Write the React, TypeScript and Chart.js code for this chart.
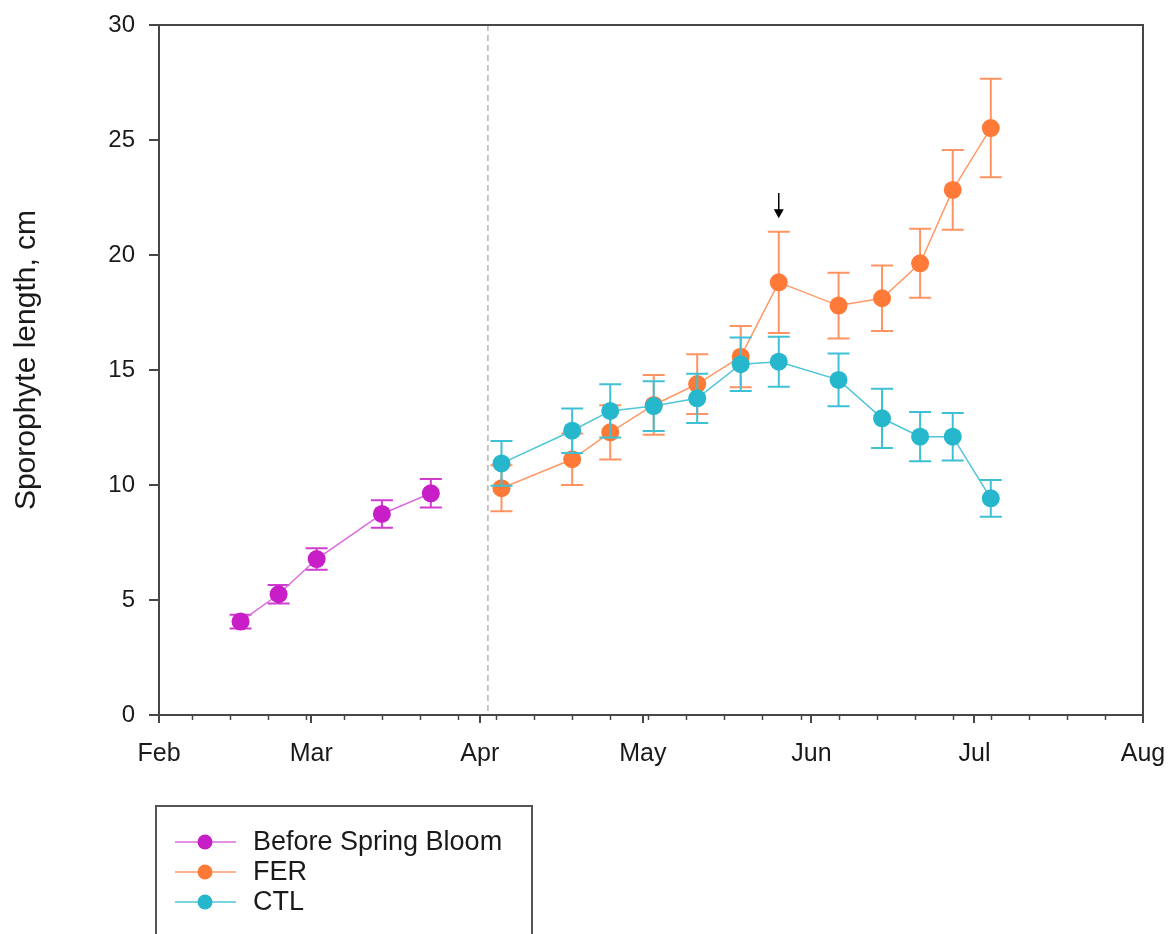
import React, { useEffect, useRef } from "react";
import { Chart, registerables } from "chart.js";

Chart.register(...registerables);

// ---------- data ----------
const axisStart = "2021-02-01";
const axisEnd = "2021-08-01";
const monthTickDates = ["2021-02-01", "2021-03-01", "2021-04-01", "2021-05-01", "2021-06-01", "2021-07-01", "2021-08-01"];
const monthTickLabels = ["Feb", "Mar", "Apr", "May", "Jun", "Jul", "Aug"];
const firstWeeklyTick = "2021-02-07";
const yMin = 0;
const yMax = 30;
const yStep = 5;

const bloomDates = ["2021-02-16", "2021-02-23", "2021-03-02", "2021-03-14", "2021-03-23"];
const bloomMean = [4.06, 5.25, 6.78, 8.74, 9.64];
const bloomErr = [0.3, 0.4, 0.47, 0.6, 0.62];

const treatDates = [
  "2021-04-05", "2021-04-18", "2021-04-25", "2021-05-03", "2021-05-11", "2021-05-19",
  "2021-05-26", "2021-06-06", "2021-06-14", "2021-06-21", "2021-06-27", "2021-07-04",
];
const ferMean = [9.86, 11.12, 12.29, 13.48, 14.39, 15.58, 18.81, 17.8, 18.12, 19.64, 22.83, 25.52];
const ferErr = [1.0, 1.12, 1.18, 1.3, 1.3, 1.33, 2.2, 1.43, 1.42, 1.5, 1.73, 2.14];
const ctlMean = [10.94, 12.36, 13.22, 13.43, 13.77, 15.25, 15.36, 14.57, 12.9, 12.1, 12.1, 9.42];
const ctlErr = [0.97, 0.97, 1.16, 1.08, 1.07, 1.16, 1.09, 1.15, 1.29, 1.07, 1.03, 0.8];

const seriesLabels = ["Before Spring Bloom", "FER", "CTL"];
const bloomEndDate = "2021-04-02T12:00:00Z";
const arrowDate = "2021-05-26";
const arrowTopValue = 22.7;
const arrowTipValue = 21.6;
const yAxisTitle = "Sporophyte length, cm";

// ---------- helpers ----------
const DAY = 86400000;
const dayOf = (d: string) => (Date.parse(d) - Date.parse(axisStart)) / DAY;
const toPoints = (dates: string[], vals: number[]) => dates.map((d, i) => ({ x: dayOf(d), y: vals[i] }));

const FONT = "'Liberation Sans', Arial, sans-serif";
const AXIS_COLOR = "#474747";
const TEXT_COLOR = "#1a1a1a";

const COLORS = {
  bloom: { point: "#C81EC8", line: "#DC6ADC", err: "#D03CD0" },
  fer: { point: "#FF7A38", line: "#FF9A66", err: "#FF9462" },
  ctl: { point: "#27B7CC", line: "#4EC6D8", err: "#3FC0D4" },
};

const errorBarPlugin = {
  id: "errorBars",
  beforeDatasetDraw(chart: any, args: any) {
    const ds = chart.data.datasets[args.index];
    if (!ds.errors) return;
    const { ctx } = chart;
    const yScale = chart.scales.y;
    const cap = 11;
    ctx.save();
    ctx.strokeStyle = ds.errColor;
    ctx.lineWidth = 2;
    args.meta.data.forEach((el: any, i: number) => {
      const v = ds.data[i].y;
      const e = ds.errors[i];
      const x = el.x;
      const yt = yScale.getPixelForValue(v + e);
      const yb = yScale.getPixelForValue(v - e);
      ctx.beginPath();
      ctx.moveTo(x, yt);
      ctx.lineTo(x, yb);
      ctx.moveTo(x - cap, yt);
      ctx.lineTo(x + cap, yt);
      ctx.moveTo(x - cap, yb);
      ctx.lineTo(x + cap, yb);
      ctx.stroke();
    });
    ctx.restore();
  },
};

const decorPlugin = {
  id: "decor",
  beforeDatasetsDraw(chart: any) {
    const { ctx, chartArea } = chart;
    const xs = chart.scales.x;
    const xd = xs.getPixelForValue(dayOf(bloomEndDate));
    ctx.save();
    ctx.strokeStyle = "#b5b5b5";
    ctx.lineWidth = 1.5;
    ctx.setLineDash([6, 4]);
    ctx.beginPath();
    ctx.moveTo(xd, chartArea.top);
    ctx.lineTo(xd, chartArea.bottom);
    ctx.stroke();
    ctx.restore();
  },
  afterDraw(chart: any) {
    const { ctx, chartArea } = chart;
    const xs = chart.scales.x;
    const ys = chart.scales.y;
    ctx.save();
    ctx.strokeStyle = AXIS_COLOR;
    ctx.lineWidth = 2;
    ctx.beginPath();
    ctx.moveTo(chartArea.left - 10, chartArea.top);
    ctx.lineTo(chartArea.right, chartArea.top);
    ctx.lineTo(chartArea.right, chartArea.bottom);
    ctx.stroke();
    ctx.lineWidth = 1.5;
    const end = dayOf(axisEnd);
    ctx.beginPath();
    for (let d = dayOf(firstWeeklyTick); d < end; d += 7) {
      const x = Math.round(xs.getPixelForValue(d)) + 0.5;
      ctx.moveTo(x, chartArea.bottom);
      ctx.lineTo(x, chartArea.bottom + 5);
    }
    ctx.stroke();
    const xa = xs.getPixelForValue(dayOf(arrowDate));
    const ya = ys.getPixelForValue(arrowTopValue);
    const yt = ys.getPixelForValue(arrowTipValue);
    ctx.strokeStyle = "#000";
    ctx.fillStyle = "#000";
    ctx.lineWidth = 1.5;
    ctx.beginPath();
    ctx.moveTo(xa, ya);
    ctx.lineTo(xa, yt - 6);
    ctx.stroke();
    ctx.beginPath();
    ctx.moveTo(xa - 5, yt - 9);
    ctx.lineTo(xa + 5, yt - 9);
    ctx.lineTo(xa, yt);
    ctx.closePath();
    ctx.fill();
    ctx.fillStyle = TEXT_COLOR;
    ctx.font = `30px ${FONT}`;
    ctx.textAlign = "center";
    ctx.textBaseline = "middle";
    ctx.translate(27, 360);
    ctx.rotate(-Math.PI / 2);
    ctx.fillText(yAxisTitle, 0, 0);
    ctx.restore();

    ctx.save();
    const lx = 156, ly = 806, lw = 376, lh = 200;
    ctx.strokeStyle = "#555";
    ctx.lineWidth = 2;
    ctx.strokeRect(lx, ly, lw, lh);
    ctx.font = `27px ${FONT}`;
    ctx.textAlign = "left";
    ctx.textBaseline = "middle";
    chart.data.datasets.forEach((ds: any, i: number) => {
      const y = 842 + i * 30;
      ctx.strokeStyle = ds.borderColor;
      ctx.lineWidth = 1.5;
      ctx.beginPath();
      ctx.moveTo(175, y);
      ctx.lineTo(236, y);
      ctx.stroke();
      ctx.fillStyle = ds.pointBackgroundColor;
      ctx.beginPath();
      ctx.arc(205, y, 7.5, 0, Math.PI * 2);
      ctx.fill();
      ctx.fillStyle = TEXT_COLOR;
      ctx.fillText(ds.label, 253, y + 1);
    });
    ctx.restore();
  },
};

export default function App() {
  const ref = useRef<HTMLCanvasElement | null>(null);

  useEffect(() => {
    if (!ref.current) return;
    const mk = (label: string, dates: string[], vals: number[], errs: number[], c: any, order: number) => ({
      label,
      data: toPoints(dates, vals),
      errors: errs,
      errColor: c.err,
      borderColor: c.line,
      borderWidth: 1.5,
      pointBackgroundColor: c.point,
      pointBorderWidth: 0,
      pointRadius: 9,
      pointHoverRadius: 9,
      showLine: true,
      tension: 0,
      order,
    });
    const chart = new Chart(ref.current, {
      type: "scatter",
      data: {
        datasets: [
          mk(seriesLabels[0], bloomDates, bloomMean, bloomErr, COLORS.bloom, 3),
          mk(seriesLabels[1], treatDates, ferMean, ferErr, COLORS.fer, 2),
          mk(seriesLabels[2], treatDates, ctlMean, ctlErr, COLORS.ctl, 1),
        ] as any,
      },
      options: {
        animation: false,
        responsive: false,
        devicePixelRatio: 1,
        layout: { padding: { top: 25, right: 25, left: 0, bottom: 0 } },
        plugins: { legend: { display: false }, tooltip: { enabled: false } },
        scales: {
          x: {
            type: "linear",
            min: dayOf(axisStart),
            max: dayOf(axisEnd),
            afterBuildTicks: (scale: any) => {
              scale.ticks = monthTickDates.map((d) => ({ value: dayOf(d) }));
            },
            afterFit: (scale: any) => {
              scale.height = 219;
              scale.paddingLeft = 0;
              scale.paddingRight = 0;
            },
            ticks: {
              autoSkip: false,
              maxRotation: 0,
              padding: 16,
              color: TEXT_COLOR,
              font: { family: FONT, size: 25 },
              callback: (v: any) => {
                const idx = monthTickDates.findIndex((d) => Math.abs(dayOf(d) - v) < 0.01);
                return idx >= 0 ? monthTickLabels[idx] : "";
              },
            },
            grid: { drawOnChartArea: false, tickLength: 8, color: AXIS_COLOR, lineWidth: 2 },
            border: { display: true, color: AXIS_COLOR, width: 2 },
          },
          y: {
            type: "linear",
            min: yMin,
            max: yMax,
            afterFit: (scale: any) => {
              scale.width = 159;
              scale.paddingTop = 0;
              scale.paddingBottom = 0;
            },
            ticks: {
              stepSize: yStep,
              padding: 14,
              color: TEXT_COLOR,
              font: { family: FONT, size: 24 },
            },
            grid: { drawOnChartArea: false, tickLength: 10, color: AXIS_COLOR, lineWidth: 2 },
            border: { display: true, color: AXIS_COLOR, width: 2 },
          },
        },
      } as any,
      plugins: [errorBarPlugin, decorPlugin],
    });
    return () => chart.destroy();
  }, []);

  return (
    <div style={{ position: "absolute", left: 0, top: 0, width: 1168, height: 934, background: "#fff" }}>
      <canvas ref={ref} width={1168} height={934} />
    </div>
  );
}
